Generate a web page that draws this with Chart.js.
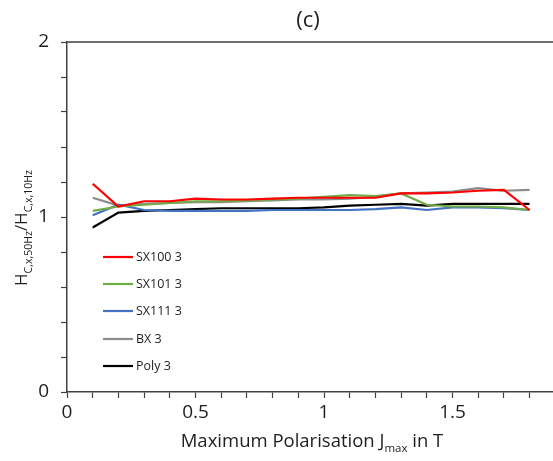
<!DOCTYPE html>
<html>
<head>
<meta charset="utf-8">
<script src="https://cdn.jsdelivr.net/npm/chart.js@4"></script>
<style>
  html, body { margin: 0; padding: 0; background: #fff; overflow: hidden; }
  #wrap { width: 600px; height: 461px; }
</style>
</head>
<body>
<div id="wrap"><canvas id="c" width="600" height="461"></canvas></div>
<script>
// ---- data ----
const xValues = [0.1,0.2,0.3,0.4,0.5,0.6,0.7,0.8,0.9,1.0,1.1,1.2,1.3,1.4,1.5,1.6,1.7,1.8];
const seriesNames = ['SX100 3','SX101 3','SX111 3','BX 3','Poly 3'];
const sx100 = [1.19,1.06,1.09,1.09,1.105,1.10,1.10,1.105,1.11,1.11,1.11,1.11,1.135,1.135,1.14,1.15,1.155,1.04];
const sx101 = [1.035,1.06,1.07,1.08,1.09,1.09,1.095,1.10,1.105,1.115,1.125,1.12,1.135,1.07,1.06,1.06,1.055,1.04];
const sx111 = [1.01,1.07,1.04,1.035,1.035,1.035,1.035,1.04,1.04,1.04,1.04,1.045,1.055,1.04,1.055,1.055,1.05,1.04];
const bx    = [1.11,1.065,1.075,1.08,1.085,1.085,1.09,1.095,1.10,1.10,1.105,1.115,1.135,1.14,1.145,1.165,1.15,1.155];
const poly  = [0.94,1.025,1.035,1.04,1.045,1.05,1.05,1.05,1.05,1.055,1.065,1.07,1.075,1.065,1.075,1.075,1.075,1.075];
const seriesValues = [sx100, sx101, sx111, bx, poly];
const yTickLabels = ['0','1','2'];
const xTickLabels = ['0','0.5','1','1.5','2'];
const titleText = '(c)';

// ---- styles ----
const seriesColors = ['#ff0000','#70ad47','#4472c4','#8c8c8c','#000000'];
const FONT = '"Open Sans", "Noto Sans", sans-serif';
const AXIS_COLOR = '#404040';
const TEXT_COLOR = '#1e1e1e';

const datasets = seriesValues.map((vals, i) => ({
  label: seriesNames[i],
  data: vals.map((v, j) => ({ x: xValues[j], y: v })),
  borderColor: seriesColors[i],
  backgroundColor: seriesColors[i],
  borderWidth: 2.2,
  pointRadius: 0,
  tension: 0,
  fill: false
}));

function drawRich(ctx, segs, size, x, y) {
  const subSize = size * 0.62;
  let total = 0;
  const widths = segs.map(s => {
    ctx.font = (s.sub ? subSize : size) + 'px ' + FONT;
    const w = ctx.measureText(s.t).width;
    total += w;
    return w;
  });
  let cx = x - total / 2;
  segs.forEach((s, i) => {
    ctx.font = (s.sub ? subSize : size) + 'px ' + FONT;
    ctx.fillText(s.t, cx, s.sub ? y + size * 0.28 : y);
    cx += widths[i];
  });
}

const decorPlugin = {
  id: 'decor',
  afterDraw(chart) {
    const ctx = chart.ctx;
    const a = chart.chartArea;
    ctx.save();
    ctx.strokeStyle = AXIS_COLOR;
    ctx.lineWidth = 1.5;
    ctx.beginPath();
    ctx.moveTo(a.left, a.top);
    ctx.lineTo(chart.width, a.top);
    ctx.stroke();

    ctx.fillStyle = TEXT_COLOR;
    ctx.textBaseline = 'alphabetic';
    ctx.textAlign = 'left';
    drawRich(ctx, [{t: titleText}], 22, 308, 27);
    drawRich(ctx, [{t:'Maximum Polarisation J'},{t:'max', sub:true},{t:' in T'}], 18.5, 312, 447);
    ctx.save();
    ctx.translate(27, 228);
    ctx.rotate(-Math.PI / 2);
    drawRich(ctx, [{t:'H'},{t:'C,x,50Hz', sub:true},{t:'/H'},{t:'C,x,10Hz', sub:true}], 17, 0, 0);
    ctx.restore();

    const rows = [257, 284, 311, 339, 366];
    ctx.font = '12.5px ' + FONT;
    ctx.textBaseline = 'middle';
    chart.data.datasets.forEach((ds, i) => {
      ctx.strokeStyle = ds.borderColor;
      ctx.lineWidth = 2.2;
      ctx.beginPath();
      ctx.moveTo(103, rows[i]);
      ctx.lineTo(133, rows[i]);
      ctx.stroke();
      ctx.fillStyle = TEXT_COLOR;
      ctx.fillText(ds.label, 136, rows[i] + 0.5);
    });
    ctx.restore();
  }
};

new Chart(document.getElementById('c'), {
  type: 'line',
  data: { datasets },
  options: {
    responsive: false,
    animation: false,
    devicePixelRatio: 1,
    layout: { padding: { top: 42, right: 19, left: 0, bottom: 0 } },
    plugins: { legend: { display: false }, tooltip: { enabled: false }, title: { display: false } },
    scales: {
      x: {
        type: 'linear',
        min: 0, max: 2,
        afterFit(scale) { scale.height = 69; },
        border: { display: true, color: AXIS_COLOR, width: 1.5 },
        grid: { drawOnChartArea: false, drawTicks: true, tickLength: 6, color: AXIS_COLOR, tickWidth: 1.2 },
        ticks: {
          stepSize: 0.1,
          autoSkip: false,
          maxRotation: 0,
          padding: 3,
          color: TEXT_COLOR,
          font: { family: FONT, size: 19 },
          callback(v) {
            const k = Math.round(v * 2);
            if (Math.abs(v * 2 - k) < 1e-6) return xTickLabels[k] !== undefined ? xTickLabels[k] : '';
            return '';
          }
        }
      },
      y: {
        type: 'linear',
        min: 0, max: 2,
        afterFit(scale) { scale.width = 67; },
        border: { display: true, color: AXIS_COLOR, width: 1.5 },
        grid: { drawOnChartArea: false, drawTicks: true, tickLength: 6, color: AXIS_COLOR, tickWidth: 1.2 },
        ticks: {
          stepSize: 0.2,
          autoSkip: false,
          padding: 12,
          color: TEXT_COLOR,
          font: { family: FONT, size: 19 },
          callback(v) {
            const k = Math.round(v);
            if (Math.abs(v - k) < 1e-6) return yTickLabels[k] !== undefined ? yTickLabels[k] : '';
            return '';
          }
        }
      }
    }
  },
  plugins: [decorPlugin]
});
</script>
</body>
</html>
